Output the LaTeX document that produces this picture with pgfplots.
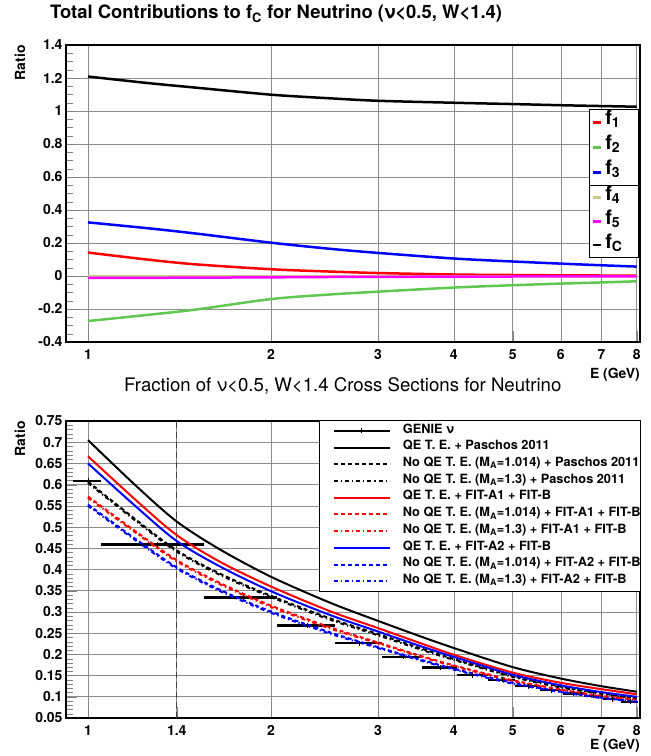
\documentclass[border=0pt]{standalone}
\usepackage{pgfplots}
\pgfplotsset{compat=1.18}
\usepackage{fontspec}
\setmainfont{TeX Gyre Heros}
\definecolor{fgreen}{RGB}{96,200,80}
\definecolor{fkhaki}{RGB}{204,200,140}
\definecolor{fmag}{RGB}{255,0,255}
\pgfplotsset{
 rootax/.style={
  scale only axis, width=574bp,
  xmin=0.92, xmax=8.1,
  axis line style={line width=1.2bp},
  tick align=inside,
  major tick length=11bp, minor tick length=7bp,
  ticklabel style={font=\bfseries\fontsize{14}{14}\selectfont},
  xticklabel style={yshift=-4bp},
 },
 dsh/.style={dash pattern=on 4bp off 3bp},
 dshdot/.style={dash pattern=on 4bp off 3bp on 1.2bp off 3bp},
}
\begin{document}
\begin{tikzpicture}
\useasboundingbox (0,0) rectangle (651bp,-756bp);
% ---------------- TOP ----------------
\begin{axis}[xmode=log, rootax, at={(66bp,-342bp)}, anchor=south west, height=297bp,
  xtick pos=left, ytick pos=left,
  grid=major, major grid style={solid, black!45, line width=0.6bp},
  ymin=-0.4, ymax=1.4,
  ytick={-0.4,-0.2,0,0.2,0.4,0.6,0.8,1,1.2,1.4},
  yticklabels={-0.4,-0.2,0,0.2,0.4,0.6,0.8,1,1.2,1.4},
  minor y tick num=3,
  xtick={1,2,3,4,5,6,7,8}, xticklabels={1,2,3,4,5,6,7,8},
  xlabel={E (GeV)}, ylabel={Ratio},
  xlabel style={at={(axis description cs:1,-0.1222)}, anchor=base east, inner sep=0pt, font=\bfseries\fontsize{14}{14}\selectfont},
  ylabel style={at={(axis description cs:-0.080,1)}, anchor=east, inner sep=0pt, font=\bfseries\fontsize{14}{14}\selectfont},
  title={Total Contributions to f\textsubscript{C} for Neutrino (ν<0.5, W<1.4)},
  title style={at={(axis description cs:-0.028,1.068)}, anchor=base west, inner sep=0pt, font=\bfseries\fontsize{18.5}{18.5}\selectfont},
  legend style={at={(axis description cs:0.998,0.785)}, anchor=north east, draw=black, line width=1bp,
    inner xsep=0pt, inner ysep=0.5bp, row sep=0pt, column sep=0pt,
    font=\bfseries\fontsize{20}{20}\selectfont,
    nodes={inner sep=0pt, text width=33bp, text height=15bp, text depth=10bp}},
  legend cell align=left,
  legend image code/.code={\draw[#1] (0bp,0bp) -- (8bp,0bp); \path (-2bp,0bp) (11bp,0bp);},
]
\addplot[red, line width=2.5bp, smooth] coordinates {(1,0.142)(1.25,0.100)(1.5,0.071)(2,0.041)(2.5,0.027)(3,0.018)(4,0.009)(5,0.006)(6,0.004)(7,0.003)(8,0.002)};
\addlegendentry{f\textsubscript{1}}
\addplot[fgreen, line width=2.5bp, smooth] coordinates {(1,-0.273)(1.25,-0.236)(1.5,-0.204)(2,-0.140)(2.5,-0.112)(3,-0.095)(4,-0.070)(5,-0.056)(6,-0.046)(7,-0.039)(8,-0.032)};
\addlegendentry{f\textsubscript{2}}
\addplot[blue, line width=2.5bp, smooth] coordinates {(1,0.325)(1.25,0.290)(1.5,0.258)(2,0.202)(2.5,0.165)(3,0.140)(4,0.106)(5,0.088)(6,0.075)(7,0.065)(8,0.057)};
\addlegendentry{f\textsubscript{3}}
\end{axis}
\begin{axis}[xmode=log, rootax, at={(66bp,-342bp)}, anchor=south west, height=297bp,
  ymin=-0.4, ymax=1.4, hide axis,
  legend style={at={(axis description cs:0.998,0.529)}, anchor=north east, draw=black, line width=1bp,
    inner xsep=0pt, inner ysep=0.5bp, row sep=0pt, column sep=0pt,
    font=\bfseries\fontsize{20}{20}\selectfont,
    nodes={inner sep=0pt, text width=33bp, text height=15bp, text depth=8.7bp}},
  legend cell align=left,
  legend image code/.code={\draw[#1] (0bp,0bp) -- (8bp,0bp); \path (-2bp,0bp) (11bp,0bp);},
]
\addplot[fkhaki, line width=2.5bp] coordinates {(1,0.001)(2,0.001)(4,0.001)(8,0.001)};
\addlegendentry{f\textsubscript{4}}
\addplot[fmag, line width=2.5bp, smooth] coordinates {(1,-0.012)(1.25,-0.011)(1.5,-0.010)(2,-0.008)(2.5,-0.006)(3,-0.005)(4,-0.004)(5,-0.003)(6,-0.002)(7,-0.002)(8,-0.002)};
\addlegendentry{f\textsubscript{5}}
\addplot[black, line width=2.5bp, smooth] coordinates {(1,1.209)(1.25,1.170)(1.5,1.142)(2,1.099)(2.5,1.077)(3,1.062)(4,1.050)(5,1.042)(6,1.035)(7,1.030)(8,1.026)};
\addlegendentry{f\textsubscript{C}}
\end{axis}
% ---------------- BOTTOM ----------------
\begin{axis}[xmode=log, rootax, at={(66bp,-718bp)}, anchor=south west, height=297bp,
  xtick pos=left, ytick pos=left,
  grid=major, major grid style={solid, black!45, line width=0.6bp},
  ymin=0.05, ymax=0.75,
  ytick={0.05,0.1,0.15,0.2,0.25,0.3,0.35,0.4,0.45,0.5,0.55,0.6,0.65,0.7,0.75},
  yticklabels={0.05,0.1,0.15,0.2,0.25,0.3,0.35,0.4,0.45,0.5,0.55,0.6,0.65,0.7,0.75},
  minor y tick num=4,
  xtick={1,1.4,2,3,4,5,6,7,8}, xticklabels={1,1.4,2,3,4,5,6,7,8},
  xlabel={E (GeV)}, ylabel={Ratio},
  xlabel style={at={(axis description cs:1,-0.1077)}, anchor=base east, inner sep=0pt, font=\bfseries\fontsize{14}{14}\selectfont},
  ylabel style={at={(axis description cs:-0.080,1)}, anchor=east, inner sep=0pt, font=\bfseries\fontsize{14}{14}\selectfont},
  title={Fraction of ν<0.5, W<1.4 Cross Sections for Neutrino},
  title style={at={(axis description cs:0.101,1.0778)}, anchor=base west, inner sep=0pt, font=\fontsize{18.7}{18.7}\selectfont},
  legend style={at={(axis description cs:1.002,1.003)}, anchor=north east, draw=black, line width=1bp,
    inner xsep=0pt, inner ysep=2bp, row sep=0pt, column sep=0pt,
    font=\bfseries\fontsize{12.8}{12.8}\selectfont,
    nodes={inner sep=0pt, text height=10.5bp, text depth=6.2bp}},
  legend cell align=left,
  legend image code/.code={\draw[#1] (0bp,0bp) -- (56bp,0bp); \path (-13bp,0bp) (68bp,0bp);},
]
\addplot[black!75, line width=0.9bp, dash pattern=on 6bp off 4bp, forget plot] coordinates {(1.4,0.05)(1.4,0.75)};
% GENIE histogram
\addplot[black, line width=2.3bp, unbounded coords=jump, forget plot] coordinates {
 (0.945,0.609)(1.05,0.609)(1.05,nan)
 (1.05,0.459)(1.55,0.459)(1.55,nan)
 (1.55,0.334)(2.05,0.334)(2.05,nan)
 (2.05,0.268)(2.55,0.268)(2.55,nan)
 (2.55,0.226)(3.05,0.226)(3.05,nan)
 (3.05,0.194)(3.55,0.194)(3.55,nan)
 (3.55,0.169)(4.05,0.169)(4.05,nan)
 (4.05,0.151)(4.55,0.151)(4.55,nan)
 (4.55,0.140)(5.05,0.140)(5.05,nan)
 (5.05,0.125)(5.55,0.125)(5.55,nan)
 (5.55,0.116)(6.05,0.116)(6.05,nan)
 (6.05,0.108)(6.55,0.108)(6.55,nan)
 (6.55,0.102)(7.05,0.102)(7.05,nan)
 (7.05,0.094)(7.55,0.094)(7.55,nan)
 (7.55,0.088)(8.05,0.088)};
\addplot[black, only marks, mark=|, mark size=2.5bp, mark options={line width=0.8bp}, forget plot] coordinates {
 (1,0.609)(1.3,0.459)(1.8,0.334)(2.3,0.268)(2.8,0.226)(3.3,0.194)(3.8,0.169)(4.3,0.151)(4.8,0.140)(5.3,0.125)(5.8,0.116)(6.3,0.108)(6.8,0.102)(7.3,0.094)(7.8,0.088)};
% Paschos
\addplot[black, line width=2bp, smooth, forget plot] coordinates {(1,0.705)(1.2,0.597)(1.4,0.513)(1.65,0.447)(2,0.383)(2.5,0.322)(3,0.279)(3.5,0.244)(4,0.215)(5,0.170)(6,0.143)(7,0.125)(8,0.112)};
\addplot[black, line width=2bp, dsh, smooth, forget plot] coordinates {(1,0.607)(1.2,0.517)(1.4,0.445)(1.65,0.390)(2,0.338)(2.5,0.285)(3,0.248)(3.5,0.216)(4,0.189)(5,0.149)(6,0.124)(7,0.108)(8,0.097)};
\addplot[black, line width=2bp, dshdot, smooth, forget plot] coordinates {(1,0.604)(1.2,0.514)(1.4,0.442)(1.65,0.387)(2,0.335)(2.5,0.282)(3,0.245)(3.5,0.213)(4,0.187)(5,0.147)(6,0.122)(7,0.107)(8,0.096)};
% FIT-A1
\addplot[red, line width=2bp, smooth, forget plot] coordinates {(1,0.667)(1.2,0.563)(1.4,0.481)(1.65,0.418)(2,0.360)(2.5,0.302)(3,0.262)(3.5,0.228)(4,0.199)(5,0.157)(6,0.133)(7,0.118)(8,0.106)};
\addplot[red, line width=2bp, dsh, smooth, forget plot] coordinates {(1,0.572)(1.2,0.489)(1.4,0.422)(1.65,0.368)(2,0.315)(2.5,0.264)(3,0.228)(3.5,0.198)(4,0.174)(5,0.139)(6,0.117)(7,0.102)(8,0.093)};
\addplot[red, line width=2bp, dshdot, smooth, forget plot] coordinates {(1,0.569)(1.2,0.486)(1.4,0.419)(1.65,0.365)(2,0.312)(2.5,0.261)(3,0.226)(3.5,0.196)(4,0.172)(5,0.137)(6,0.116)(7,0.101)(8,0.092)};
% FIT-A2
\addplot[blue, line width=2bp, smooth, forget plot] coordinates {(1,0.650)(1.2,0.548)(1.4,0.467)(1.65,0.407)(2,0.349)(2.5,0.293)(3,0.254)(3.5,0.221)(4,0.194)(5,0.152)(6,0.127)(7,0.111)(8,0.100)};
\addplot[blue, line width=2bp, dsh, smooth, forget plot] coordinates {(1,0.553)(1.2,0.471)(1.4,0.405)(1.65,0.352)(2,0.301)(2.5,0.252)(3,0.217)(3.5,0.189)(4,0.166)(5,0.133)(6,0.112)(7,0.098)(8,0.089)};
\addplot[blue, line width=2bp, dshdot, smooth, forget plot] coordinates {(1,0.550)(1.2,0.468)(1.4,0.402)(1.65,0.349)(2,0.298)(2.5,0.249)(3,0.215)(3.5,0.187)(4,0.164)(5,0.131)(6,0.111)(7,0.097)(8,0.088)};
% legend
\addlegendimage{legend image code/.code={\draw[black, line width=2.3bp] (0bp,0bp) -- (56bp,0bp); \draw[black, line width=0.8bp] (28bp,-2.5bp) -- (28bp,2.5bp); \path (-13bp,0bp) (68bp,0bp);}}
\addlegendentry{GENIE ν}
\addlegendimage{black, line width=2bp}
\addlegendentry{QE T. E. + Paschos 2011}
\addlegendimage{black, line width=2bp, dsh}
\addlegendentry{No QE T. E. (M\textsubscript{A}=1.014) + Paschos 2011}
\addlegendimage{black, line width=2bp, dshdot}
\addlegendentry{No QE T. E. (M\textsubscript{A}=1.3) + Paschos 2011}
\addlegendimage{red, line width=2bp}
\addlegendentry{QE T. E. + FIT-A1 + FIT-B}
\addlegendimage{red, line width=2bp, dsh}
\addlegendentry{No QE T. E. (M\textsubscript{A}=1.014) + FIT-A1 + FIT-B}
\addlegendimage{red, line width=2bp, dshdot}
\addlegendentry{No QE T. E. (M\textsubscript{A}=1.3) + FIT-A1 + FIT-B}
\addlegendimage{blue, line width=2bp}
\addlegendentry{QE T. E. + FIT-A2 + FIT-B}
\addlegendimage{blue, line width=2bp, dsh}
\addlegendentry{No QE T. E. (M\textsubscript{A}=1.014) + FIT-A2 + FIT-B}
\addlegendimage{blue, line width=2bp, dshdot}
\addlegendentry{No QE T. E. (M\textsubscript{A}=1.3) + FIT-A2 + FIT-B}
\end{axis}
\end{tikzpicture}
\end{document}
